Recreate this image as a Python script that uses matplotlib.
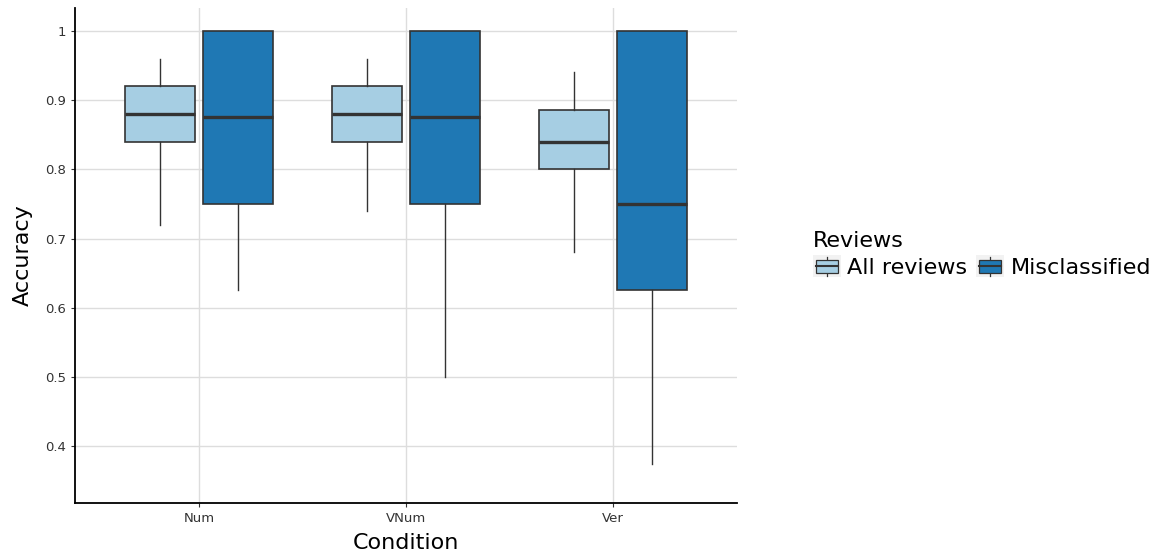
import matplotlib
matplotlib.use("Agg")
import matplotlib.pyplot as plt
from matplotlib.patches import Rectangle
from matplotlib.lines import Line2D
from matplotlib.legend_handler import HandlerBase

conditions = ["Num", "VNum", "Ver"]
groups = ["All reviews", "Misclassified"]
colors = ["#a6cee3", "#1f78b4"]

# per group, per condition: (whislo, q1, med, q3, whishi)
all_reviews = [
    (0.72, 0.84, 0.88, 0.92, 0.96),
    (0.74, 0.84, 0.88, 0.92, 0.96),
    (0.68, 0.80, 0.84, 0.885, 0.94),
]
misclassified = [
    (0.625, 0.75, 0.875, 1.0, 1.0),
    (0.50, 0.75, 0.875, 1.0, 1.0),
    (0.375, 0.625, 0.75, 1.0, 1.0),
]
series = [all_reviews, misclassified]

fig = plt.figure(figsize=(11.56, 5.54), dpi=100)
ax = fig.add_axes([75/1156, 1-503/554, (737-75)/1156, (503-8)/554])

edge = "#333333"
offsets = [-0.1875, 0.1875]
for g, (data, col, off) in enumerate(zip(series, colors, offsets)):
    stats = []
    for vals in data:
        lo, q1, med, q3, hi = vals
        stats.append(dict(whislo=lo, q1=q1, med=med, q3=q3, whishi=hi, fliers=[]))
    pos = [i + off for i in range(len(conditions))]
    ax.bxp(stats, positions=pos, widths=0.3375, patch_artist=True,
           showcaps=False, showfliers=False,
           boxprops=dict(facecolor=col, edgecolor=edge, linewidth=1.2),
           medianprops=dict(color=edge, linewidth=2.4),
           whiskerprops=dict(color=edge, linewidth=1.0),
           manage_ticks=False, zorder=3)

ax.set_xlim(-0.6, 2.6)
ax.set_ylim(0.318, 1.033)
ax.set_xticks(range(len(conditions)))
ax.set_xticklabels(conditions)
ax.set_yticks([0.4, 0.5, 0.6, 0.7, 0.8, 0.9, 1.0])
ax.set_yticklabels(["0.4", "0.5", "0.6", "0.7", "0.8", "0.9", "1"])
ax.tick_params(axis="both", labelsize=9.5, length=3, width=0.8, color="#333333", labelcolor="#333333")
ax.grid(True, color="#dddddd", linewidth=1.0, zorder=0)
ax.set_axisbelow(True)
for s in ["top", "right"]:
    ax.spines[s].set_visible(False)
for s in ["left", "bottom"]:
    ax.spines[s].set_linewidth(1.3)
    ax.spines[s].set_color("black")
ax.set_xlabel("Condition", fontsize=16, labelpad=6)
ax.set_ylabel("Accuracy", fontsize=16, labelpad=9)


class BoxHandler(HandlerBase):
    def __init__(self, color):
        super().__init__()
        self.color = color

    def create_artists(self, legend, orig_handle, xdescent, ydescent, width, height, fontsize, trans):
        bg = Rectangle((-xdescent, -ydescent), width, height, facecolor="#f2f2f2", edgecolor="none", transform=trans)
        bw = width * 0.8
        bx = -xdescent + (width - bw) / 2
        by = -ydescent + height * 0.2
        bh = height * 0.6
        box = Rectangle((bx, by), bw, bh, facecolor=self.color, edgecolor=edge, linewidth=0.9, transform=trans)
        cx = -xdescent + width / 2
        w1 = Line2D([cx, cx], [-ydescent + height * 0.05, by], color=edge, linewidth=0.9, transform=trans)
        w2 = Line2D([cx, cx], [by + bh, -ydescent + height * 0.95], color=edge, linewidth=0.9, transform=trans)
        med = Line2D([bx, bx + bw], [by + bh / 2, by + bh / 2], color=edge, linewidth=1.5, transform=trans)
        return [bg, w1, w2, box, med]


h1 = Rectangle((0, 0), 1, 1)
h2 = Rectangle((0, 0), 1, 1)
leg = fig.legend([h1, h2], groups, loc="upper left", bbox_to_anchor=(813/1156, 1-231/554),
                 ncol=2, frameon=False, fontsize=16, title="Reviews", title_fontsize=16,
                 handler_map={h1: BoxHandler(colors[0]), h2: BoxHandler(colors[1])},
                 handlelength=1.25, handleheight=1.15, handletextpad=0.3, columnspacing=0.4,
                 borderpad=0.0, borderaxespad=0.0, labelspacing=0.2, alignment="left")

fig.savefig("out.png", dpi=100)
